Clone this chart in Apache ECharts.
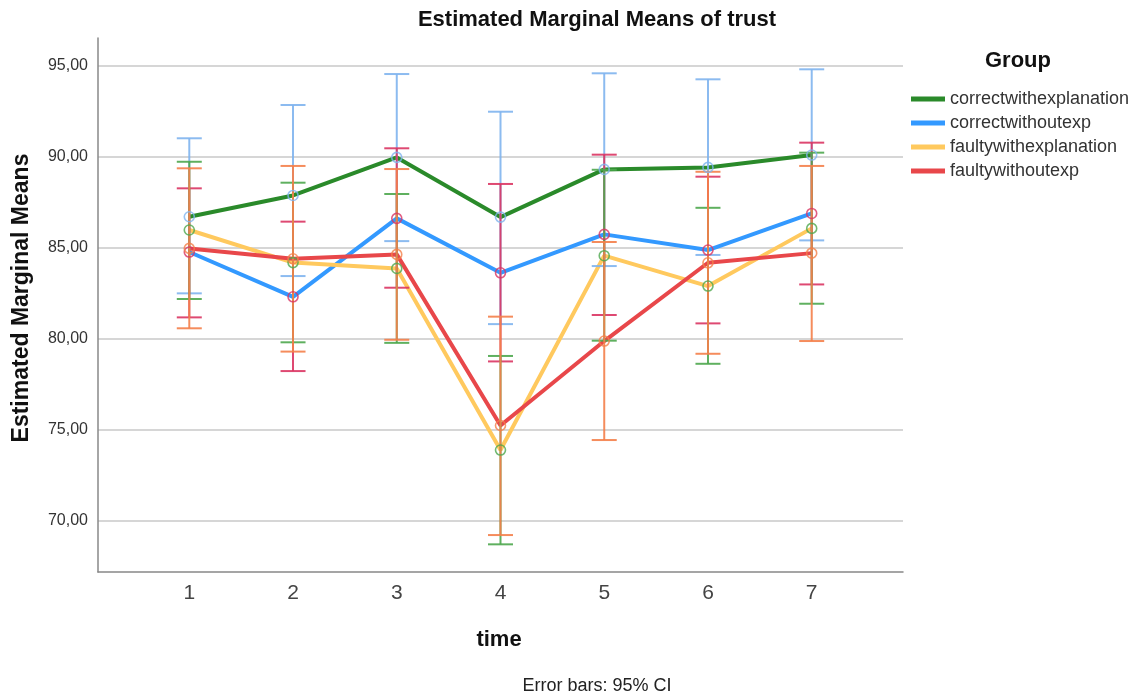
<!DOCTYPE html>
<html>
<head>
<meta charset="utf-8">
<script src="https://cdn.jsdelivr.net/npm/echarts@6/dist/echarts.min.js"></script>
<style>
  html, body { margin: 0; padding: 0; background: #fff; }
  #chart { width: 1135px; height: 697px; }
</style>
</head>
<body>
<div id="chart"></div>
<script>
// Estimated marginal means of trust over time, with 95% confidence intervals
const times = [1, 2, 3, 4, 5, 6, 7];
const groups = ['correctwithexplanation', 'correctwithoutexp', 'faultywithexplanation', 'faultywithoutexp'];
const yTicks = [70, 75, 80, 85, 90, 95];

const meanCorrectWithExp   = [86.72, 87.89, 89.98, 86.70, 89.32, 89.43, 90.11];
const lowerCorrectWithExp  = [82.51, 83.46, 85.38, 80.82, 84.01, 84.62, 85.42];
const upperCorrectWithExp  = [91.03, 92.86, 94.56, 92.49, 94.60, 94.27, 94.82];

const meanCorrectWithout   = [84.78, 82.32, 86.63, 83.64, 85.75, 84.89, 86.90];
const lowerCorrectWithout  = [81.19, 78.24, 82.82, 78.77, 81.32, 80.86, 83.00];
const upperCorrectWithout  = [88.28, 86.45, 90.48, 88.52, 90.13, 88.92, 90.79];

const meanFaultyWithExp    = [85.99, 84.20, 83.88, 73.90, 84.58, 82.91, 86.08];
const lowerFaultyWithExp   = [82.20, 79.82, 79.79, 68.72, 79.91, 78.64, 81.94];
const upperFaultyWithExp   = [89.74, 88.59, 87.97, 79.07, 89.30, 87.21, 90.24];

const meanFaultyWithout    = [84.98, 84.41, 84.65, 75.25, 79.89, 84.19, 84.72];
const lowerFaultyWithout   = [80.59, 79.31, 79.96, 69.23, 74.45, 79.19, 79.89];
const upperFaultyWithout   = [89.38, 89.51, 89.34, 81.23, 85.33, 89.19, 89.51];

const means  = [meanCorrectWithExp, meanCorrectWithout, meanFaultyWithExp, meanFaultyWithout];
const lowers = [lowerCorrectWithExp, lowerCorrectWithout, lowerFaultyWithExp, lowerFaultyWithout];
const uppers = [upperCorrectWithExp, upperCorrectWithout, upperFaultyWithExp, upperFaultyWithout];

// line colours, and the colours used for each group's markers and error bars
const lineColors = ['#2A8A2A', '#3399FF', '#FFC95E', '#E8474A'];
const barColors  = ['#80B4EE', '#DA3563', '#4EA74E', '#F4804A'];

const FONT = 'Liberation Sans, Arial, sans-serif';

function errorBarRenderer(color) {
  return function (params, api) {
    const x = api.value(0);
    const lo = api.coord([x, api.value(1)]);
    const hi = api.coord([x, api.value(2)]);
    const half = 12.5;
    const style = { stroke: color, lineWidth: 2, opacity: 0.9 };
    return {
      type: 'group',
      children: [
        { type: 'line', shape: { x1: lo[0], y1: lo[1], x2: hi[0], y2: hi[1] }, style: style },
        { type: 'line', shape: { x1: lo[0] - half, y1: lo[1], x2: lo[0] + half, y2: lo[1] }, style: style },
        { type: 'line', shape: { x1: hi[0] - half, y1: hi[1], x2: hi[0] + half, y2: hi[1] }, style: style }
      ]
    };
  };
}

const series = [];
groups.forEach((g, i) => {
  series.push({
    name: g,
    type: 'line',
    data: times.map((t, k) => [t, means[i][k]]),
    showSymbol: false,
    symbol: 'none',
    lineStyle: { color: lineColors[i], width: 4 },
    itemStyle: { color: lineColors[i] },
    z: 2,
    animation: false
  });
});
groups.forEach((g, i) => {
  series.push({
    name: g + ' CI',
    type: 'custom',
    renderItem: errorBarRenderer(barColors[i]),
    data: times.map((t, k) => [t, lowers[i][k], uppers[i][k]]),
    encode: { x: 0, y: [1, 2] },
    z: 3,
    silent: true,
    animation: false
  });
});
groups.forEach((g, i) => {
  series.push({
    name: g + ' mean',
    type: 'scatter',
    data: times.map((t, k) => [t, means[i][k]]),
    symbol: 'circle',
    symbolSize: 10,
    itemStyle: { color: 'rgba(255,255,255,0)', borderColor: barColors[i], borderWidth: 1.6 },
    z: 4,
    silent: true,
    animation: false
  });
});

const chart = echarts.init(document.getElementById('chart'), null, { renderer: 'canvas' });
chart.setOption({
  animation: false,
  backgroundColor: '#ffffff',
  grid: { left: 98, right: 232, top: 38, bottom: 125, containLabel: false },
  xAxis: {
    type: 'value',
    min: 0.12, max: 7.88,
    axisLine: { show: true, lineStyle: { color: '#888', width: 1.5 } },
    axisTick: { show: false },
    splitLine: { show: false },
    axisLabel: {
      customValues: times,
      margin: 11,
      fontFamily: FONT, fontSize: 21, color: '#444',
      formatter: v => String(Math.round(v))
    }
  },
  yAxis: {
    type: 'value',
    min: 67.2, max: 96.54,
    axisLine: { show: true, lineStyle: { color: '#888', width: 1.5 } },
    axisTick: { show: false, customValues: yTicks },
    splitLine: { show: true, lineStyle: { color: '#C8C8C8', width: 1.5 } },
    axisLabel: {
      customValues: yTicks,
      margin: 10,
      fontFamily: FONT, fontSize: 16, color: '#333',
      formatter: v => v.toFixed(2).replace('.', ',')
    }
  },
  legend: {
    data: groups,
    orient: 'vertical',
    left: 906, top: 85,
    icon: 'rect',
    itemWidth: 34, itemHeight: 5,
    itemGap: 6,
    textStyle: { fontFamily: FONT, fontSize: 18, color: '#333', lineHeight: 18 },
    selectedMode: false
  },
  graphic: [
    {
      type: 'text',
      x: 597, y: 20,
      style: {
        text: 'Estimated Marginal Means of trust',
        fontFamily: FONT, fontSize: 22, fontWeight: 'bold', fill: '#111',
        textAlign: 'center', textVerticalAlign: 'middle'
      }
    },
    {
      type: 'text',
      x: 22, y: 298,
      rotation: Math.PI / 2,
      style: {
        text: 'Estimated Marginal Means',
        fontFamily: FONT, fontSize: 23, fontWeight: 'bold', fill: '#111',
        textAlign: 'center', textVerticalAlign: 'middle'
      }
    },
    {
      type: 'text',
      x: 499, y: 640,
      style: {
        text: 'time',
        fontFamily: FONT, fontSize: 22, fontWeight: 'bold', fill: '#111',
        textAlign: 'center', textVerticalAlign: 'middle'
      }
    },
    {
      type: 'text',
      x: 1018, y: 61,
      style: {
        text: 'Group',
        fontFamily: FONT, fontSize: 22, fontWeight: 'bold', fill: '#111',
        textAlign: 'center', textVerticalAlign: 'middle'
      }
    },
    {
      type: 'text',
      x: 597, y: 686,
      style: {
        text: 'Error bars: 95% CI',
        fontFamily: FONT, fontSize: 18, fill: '#222',
        textAlign: 'center', textVerticalAlign: 'middle'
      }
    }
  ],
  series: series
});
</script>
</body>
</html>
